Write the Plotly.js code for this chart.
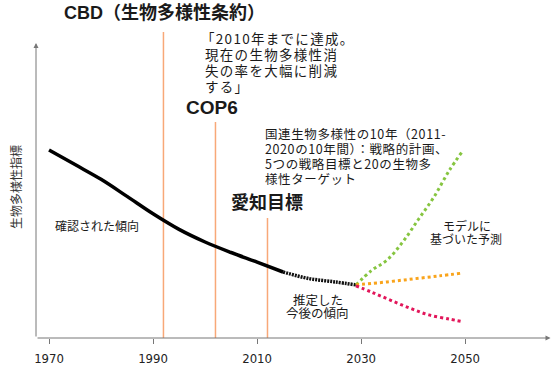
<!DOCTYPE html>
<html><head><meta charset="utf-8">
<script src="https://cdn.plot.ly/plotly-3.0.1.min.js"></script>
<style>html,body{margin:0;padding:0;background:#fff}#chart{width:560px;height:374px}</style>
</head><body><div id="chart"></div>
<script>
// ---- data ----
const obsYears = [1970, 1975, 1980, 1985, 1990, 1995, 2000, 2005, 2010, 2015];
const obsIndex = [62.7, 57.8, 52.9, 47.2, 41.4, 36.2, 32.0, 28.5, 25.3, 22.0];
const estYears = [2015, 2020, 2025, 2029];
const estIndex = [22.0, 19.8, 18.7, 17.7];
const greenYears = [2029, 2032, 2035, 2038, 2041, 2044, 2047, 2049.3];
const greenIndex = [17.7, 22.5, 26.0, 32.0, 39.5, 47.0, 56.0, 61.8];
const orangeYears = [2029, 2035, 2040, 2045, 2049.3];
const orangeIndex = [17.7, 18.7, 19.7, 20.7, 21.6];
const redYears = [2029, 2032, 2035.5, 2039.3, 2043, 2047, 2049.3];
const redIndex = [17.4, 15.3, 12.7, 10.0, 7.7, 6.3, 5.5];
const eventYears = [1992, 2002, 2012];
const eventTops = [102, 72, 40];
const tickYears = [1970, 1990, 2010, 2030, 2050];
const tickLabels = ['1970', '1990', '2010', '2030', '2050'];

// ---- helpers (pixel -> paper coordinates for text placement) ----
const X0 = 1967.5, X1 = 2066.5, L = 36, R = 9, W = 560, H = 374, T = 20, B = 36;
const Y1 = (H - T - B) / 3;
function px(p) { return (p - L) / (W - L - R); }
function py(p) { return (H - B - p) / (H - T - B); }

const jp = 'Noto Sans CJK JP, sans-serif';
const bold = 'Liberation Sans, Noto Sans CJK JP, sans-serif';
const ink = '#1a1a1a';

const traces = [];
eventYears.forEach((yr, i) => {
  traces.push({x: [yr, yr], y: [0, eventTops[i]], mode: 'lines', cliponaxis: false,
    line: {color: '#f8a878', width: 1.5}, hoverinfo: 'skip', showlegend: false});
});
traces.push({x: obsYears, y: obsIndex, mode: 'lines', line: {color: '#000', width: 3.5, shape: 'spline'}, showlegend: false});
traces.push({x: estYears, y: estIndex, mode: 'lines', line: {color: '#111', width: 3.5, dash: '2px,1px', shape: 'spline'}, showlegend: false});
traces.push({x: greenYears, y: greenIndex, mode: 'lines', line: {color: '#86c540', width: 3, dash: 'dot', shape: 'spline'}, showlegend: false});
traces.push({x: orangeYears, y: orangeIndex, mode: 'lines', line: {color: '#f9a41c', width: 3, dash: 'dot', shape: 'spline'}, showlegend: false});
traces.push({x: redYears, y: redIndex, mode: 'lines', line: {color: '#e2165a', width: 3, dash: 'dot', shape: 'spline'}, showlegend: false});

function txt(text, x, y, size, anchor, family) {
  return {text: text, x: px(x), y: py(y), xref: 'paper', yref: 'paper', showarrow: false, borderpad: 0,
    align: anchor === 'center' ? 'center' : 'left',
    xanchor: anchor || 'left', yanchor: 'middle', font: {family: family || jp, size: size, color: ink}};
}

const quoteLines = ['「2010年までに達成。', '現在の生物多様性消', '失の率を大幅に削減', 'する」'];
const unLines = ['国連生物多様性の10年（2011-', '2020の10年間）：戦略的計画、', '5つの戦略目標と20の生物多', '様性ターゲット'];

const annotations = [
  // axes arrows
  {x: X0, y: (H - B - 43) / 3, ax: X0, ay: 0, xref: 'x', yref: 'y', axref: 'x', ayref: 'y', text: '', showarrow: true,
   arrowhead: 2, arrowsize: 1, arrowwidth: 1, arrowcolor: '#777', standoff: 0, startstandoff: 0},
  {x: X1 - 0.1, y: 0, ax: X0, ay: 0, xref: 'x', yref: 'y', axref: 'x', ayref: 'y', text: '', showarrow: true,
   arrowhead: 2, arrowsize: 1, arrowwidth: 1, arrowcolor: '#777', standoff: 0, startstandoff: 0},
  // y axis title
  {text: '生物多様性指標', x: px(15), y: py(187), xref: 'paper', yref: 'paper', showarrow: false, textangle: -90,
   xanchor: 'center', yanchor: 'middle', font: {family: jp, size: 12, color: '#333'}},
  txt('<b>CBD（生物多様性条約）</b>', 164, 13, 18, 'center', bold),
  txt(quoteLines[0], 200, 38, 13.5),
  txt(quoteLines[1], 204, 54, 13.5),
  txt(quoteLines[2], 204, 70, 13.5),
  txt(quoteLines[3], 204, 86, 13.5),
  txt('<b>COP6</b>', 212, 107, 19, 'center', bold),
  txt(unLines[0], 264, 133, 12.5),
  txt(unLines[1], 264, 148, 12.5),
  txt(unLines[2], 264, 163, 12.5),
  txt(unLines[3], 264, 178, 12.5),
  txt('<b>愛知目標</b>', 267, 203, 18, 'center', bold),
  txt('確認された傾向', 97, 225, 12, 'center'),
  txt('推定した', 318, 299, 12.5, 'center'),
  txt('今後の傾向', 317, 312, 12.5, 'center'),
  txt('モデルに', 467, 225, 12, 'center'),
  txt('基づいた予測', 466, 238, 12, 'center')
];

const layout = {
  width: W, height: H,
  margin: {l: L, r: R, t: T, b: B, pad: 0},
  paper_bgcolor: '#fff', plot_bgcolor: '#fff',
  xaxis: {range: [X0, X1], showgrid: false, zeroline: false, showline: false,
    tickvals: tickYears, ticktext: tickLabels, ticks: 'outside', ticklen: 5, tickwidth: 1, tickcolor: '#777',
    ticklabelstandoff: 3,
    tickfont: {family: 'Liberation Sans Narrow, DejaVu Sans Condensed, sans-serif', size: 13, color: '#222'}},
  yaxis: {range: [0, Y1], visible: false, showgrid: false, zeroline: false},
  annotations: annotations,
  showlegend: false
};

Plotly.newPlot('chart', traces, layout, {displayModeBar: false, staticPlot: true}).then(() => {
  // the reference sets these text blocks with slightly wider tracking
  document.querySelectorAll('#chart .annotation-text').forEach(el => {
    const t = el.textContent;
    if (quoteLines.includes(t)) el.style.letterSpacing = '1.3px';
    else if (unLines.includes(t)) el.style.letterSpacing = '0.6px';
  });
});
</script>
</body></html>
